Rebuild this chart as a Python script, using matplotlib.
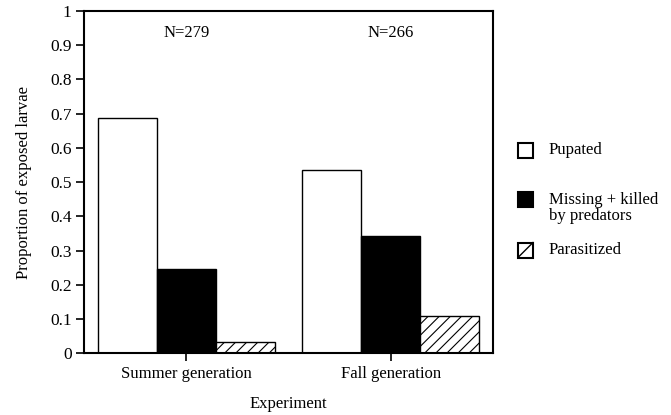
import matplotlib
matplotlib.use("Agg")
import matplotlib.pyplot as plt
import numpy as np
from matplotlib.patches import Rectangle
from matplotlib.lines import Line2D

categories = ["Summer generation", "Fall generation"]
series_names = ["Pupated", "Missing + killed\nby predators", "Parasitized"]
pupated = [0.688, 0.535]
missing = [0.246, 0.344]
parasitized = [0.034, 0.108]
n_labels = ["N=279", "N=266"]
yticks = [0, 0.1, 0.2, 0.3, 0.4, 0.5, 0.6, 0.7, 0.8, 0.9, 1]
ytick_labels = ["0", "0.1", "0.2", "0.3", "0.4", "0.5", "0.6", "0.7", "0.8", "0.9", "1"]

plt.rcParams['font.family'] = ['Liberation Serif', 'DejaVu Serif']
plt.rcParams['hatch.linewidth'] = 0.8
fs = 12

fig = plt.figure(figsize=(6.71, 4.15), dpi=100)
ax = fig.add_axes([0.1252, 0.1487, 0.6095, 0.8248])

x = np.arange(len(categories))
w = 0.288
styles = [dict(facecolor="white", edgecolor="black", hatch=None),
          dict(facecolor="black", edgecolor="black", hatch=None),
          dict(facecolor="white", edgecolor="black", hatch="///")]
for i, vals in enumerate([pupated, missing, parasitized]):
    ax.bar(x + (i - 1) * w, vals, width=w, linewidth=1.0, **styles[i])

ax.set_xlim(-0.5, 1.5)
ax.set_ylim(0, 1)
ax.set_yticks(yticks)
ax.set_yticklabels(ytick_labels, fontsize=12.5)
ax.set_xticks(x)
ax.set_xticklabels(categories, fontsize=fs)
ax.tick_params(axis='both', direction='out', length=6, width=1.2, pad=3)
for s in ax.spines.values():
    s.set_linewidth(1.5)
ax.set_ylabel("Proportion of exposed larvae", fontsize=fs, labelpad=13)
ax.set_xlabel("Experiment", fontsize=fs, labelpad=10)

for xi, t in zip(x, n_labels):
    ax.text(xi, 0.935, t, ha='center', va='center', fontsize=fs)

# legend drawn in figure pixels
W, H = 671, 415
leg_y = [150, 200, 250]
for i, (name, st) in enumerate(zip(series_names, styles)):
    yc = leg_y[i]
    x0, y0 = 518 / W, 1 - (yc + 7.5) / H
    r = Rectangle((x0, y0), 15 / W, 15 / H,
                  transform=fig.transFigure, facecolor=st["facecolor"],
                  edgecolor="black", linewidth=1.5)
    fig.patches.append(r)
    if st["hatch"]:
        fig.lines.append(Line2D([x0, x0 + 15 / W], [y0, y0 + 15 / H],
                                transform=fig.transFigure, color="black", linewidth=1.0))
    lines = name.split("\n")
    for k, ln in enumerate(lines):
        fig.text(549 / W, 1 - (yc + 16 * k) / H, ln, ha='left', va='center', fontsize=fs)

fig.savefig("out.png", dpi=100)
